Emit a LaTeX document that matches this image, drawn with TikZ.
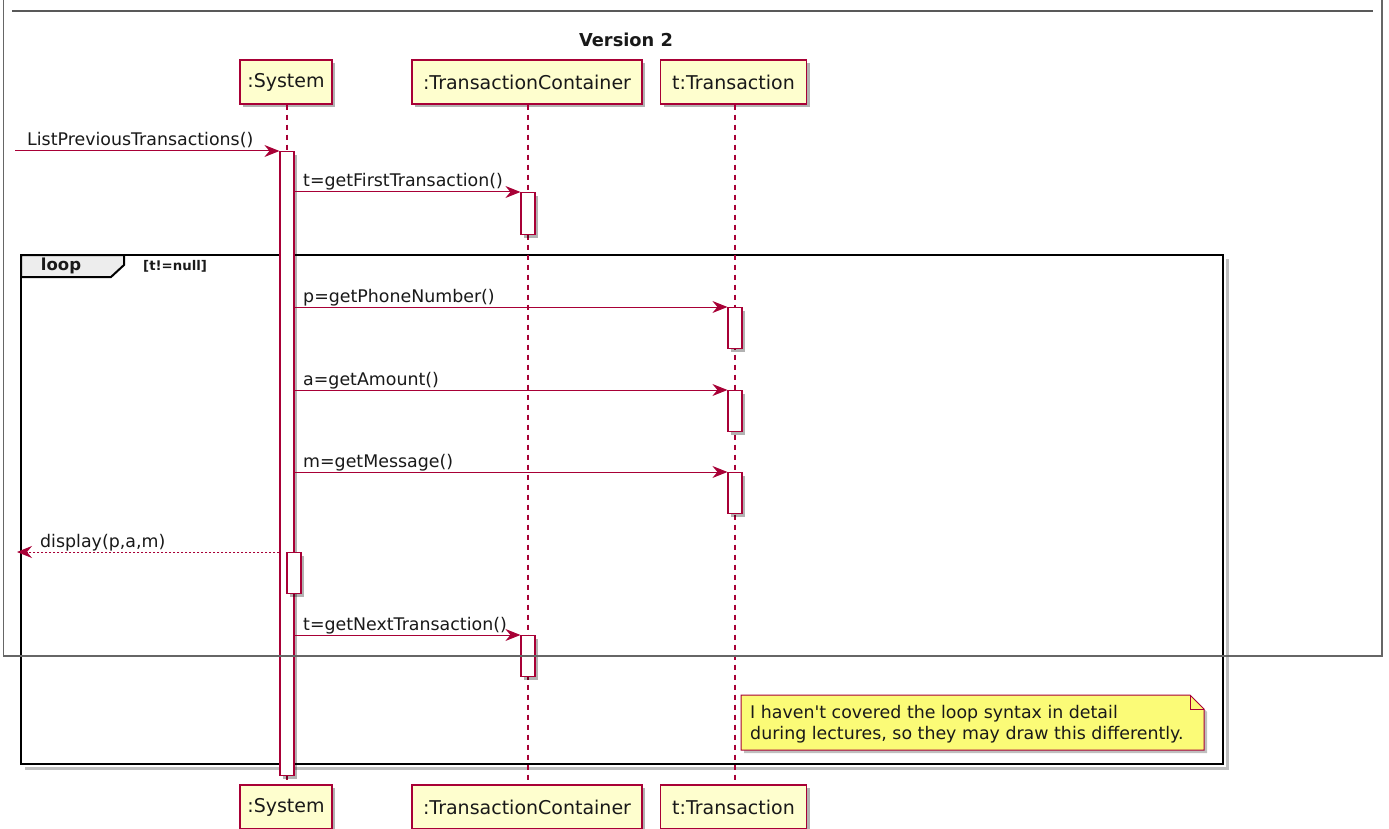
\documentclass[tikz,border=0pt]{standalone}
\usepackage{fontspec}
\setmainfont{DejaVu Sans}[Ligatures=TeXOff]
\usetikzlibrary{arrows.meta,shadows,calc}
\definecolor{pu}{HTML}{A80036}
\definecolor{pfill}{HTML}{FEFECE}
\definecolor{nfill}{HTML}{FBFB77}
\definecolor{framegray}{HTML}{666666}
\begin{document}
\begin{tikzpicture}[x=1pt,y=-1pt,
  shad/.style={drop shadow={shadow xshift=3pt,shadow yshift=-3pt,opacity=0.3,fill=black}},
  part/.style={draw=pu,line width=1.1pt,fill=pfill,minimum height=44pt,inner xsep=0pt,
    font=\fontsize{19}{21}\selectfont,text=black!90,shad},
  act/.style={draw=pu,line width=1.2pt,fill=white,minimum width=14pt,inner sep=0pt,anchor=north,shad},
  life/.style={color=pu,dash pattern=on 5pt off 5pt,line width=1.2pt},
  msg/.style={color=pu,line width=1pt,-{Stealth[length=15pt,width=12pt,inset=5pt]}},
  ret/.style={msg,dash pattern=on 2pt off 2pt},
  lbl/.style={font=\fontsize{17.4}{20}\selectfont,text=black!90,anchor=base west,inner sep=0pt},
]
\useasboundingbox (0,0) rectangle (1389,829);
\fill[white] (0,0) rectangle (1389,829);

% title
\node[font=\bfseries\fontsize{17.8}{20}\selectfont,text=black!90] (title) at (626,40) {Version 2};

% participants
\node[part,minimum width=92pt] (sysT) at (286,82) {:System};
\node[part,minimum width=230pt] (tcT) at (527,82) {:TransactionContainer};
\node[part,minimum width=146pt] (trT) at (733.5,82) {t:Transaction};
\node[part,minimum width=92pt] (sysB) at (286,807) {:System};
\node[part,minimum width=230pt] (tcB) at (527,807) {:TransactionContainer};
\node[part,minimum width=146pt] (trB) at (733.5,807) {t:Transaction};

% loop frame
\draw[black!25,line width=3pt] (1227,259) -- (1227,768) -- (25,768);
\draw[line width=2.6pt] (21,255) rectangle (1223,764);
\draw[line width=2pt,fill=black!7] (21,255) -- (124,255) -- (124,265) -- (111,277) -- (21,277) -- cycle;
\node[font=\bfseries\fontsize{16.5}{18}\selectfont,text=black!90] (looplbl) at (61,266) {loop};
\node[font=\bfseries\fontsize{13.3}{15}\selectfont,text=black!90,anchor=west,inner sep=0pt] (guard) at (143,266) {[t!=null]};

% lifelines
\draw[life] ([xshift=1pt]sysT.south) -- ([xshift=1pt]sysB.north);
\draw[life] ([xshift=1pt]tcT.south) -- ([xshift=1pt]tcB.north);
\draw[life] ([xshift=1.5pt]trT.south) -- ([xshift=1.5pt]trB.north);

% activations
\node[act,minimum height=624pt] (aS) at (287,151) {};
\node[act,minimum height=42pt] (aC1) at (528,192) {};
\node[act,minimum height=41pt] (aT1) at (735,307) {};
\node[act,minimum height=41pt] (aT2) at (735,390) {};
\node[act,minimum height=41pt] (aT3) at (735,472) {};
\node[act,minimum height=41pt] (aS2) at (294,552) {};
\node[act,minimum height=41pt] (aC2) at (528,635) {};

% messages
\coordinate (in1) at (15,151);
\draw[msg] (in1) -- (aS.north west);
\node[lbl] (l1) at (27,146) {ListPreviousTransactions()};

\draw[msg] (aS.east |- aC1.north) -- (aC1.north west);
\node[lbl] (l2) at (303,187) {t=getFirstTransaction()};

\draw[msg] (aS.east |- aT1.north) -- (aT1.north west);
\node[lbl] (l3) at (303,302) {p=getPhoneNumber()};

\draw[msg] (aS.east |- aT2.north) -- (aT2.north west);
\node[lbl] (l4) at (303,385) {a=getAmount()};

\draw[msg] (aS.east |- aT3.north) -- (aT3.north west);
\node[lbl] (l5) at (303,467) {m=getMessage()};

\coordinate (out1) at (17,552);
\draw[ret] (aS.west |- aS2.north) -- (out1);
\node[lbl] (l6) at (40,547) {display(p,a,m)};

\draw[msg] (aS.east |- aC2.north) -- (aC2.north west);
\node[lbl] (l7) at (303,630) {t=getNextTransaction()};

% note
\fill[black,opacity=0.25] (744,698) -- (1193,698) -- (1207,712) -- (1207,753) -- (744,753) -- cycle;
\draw[pu,line width=1pt,fill=nfill] (741,695) -- (1190,695) -- (1204,709) -- (1204,750) -- (741,750) -- cycle;
\draw[pu,line width=1pt] (1190,695) -- (1190,709) -- (1204,709);
\node[font=\fontsize{17.4}{21}\selectfont,text=black!90,align=left,anchor=north west,inner sep=0pt] (note) at (750,705)
  {I haven't covered the loop syntax in detail\\during lectures, so they may draw this differently.};

% outer gray frame
\draw[framegray,line width=1.2pt] (3.5,0) -- (3.5,656) -- (1382,656) -- (1382,0);
\draw[black!65,line width=2pt] (12,11) -- (1373,11);
\end{tikzpicture}
\end{document}
